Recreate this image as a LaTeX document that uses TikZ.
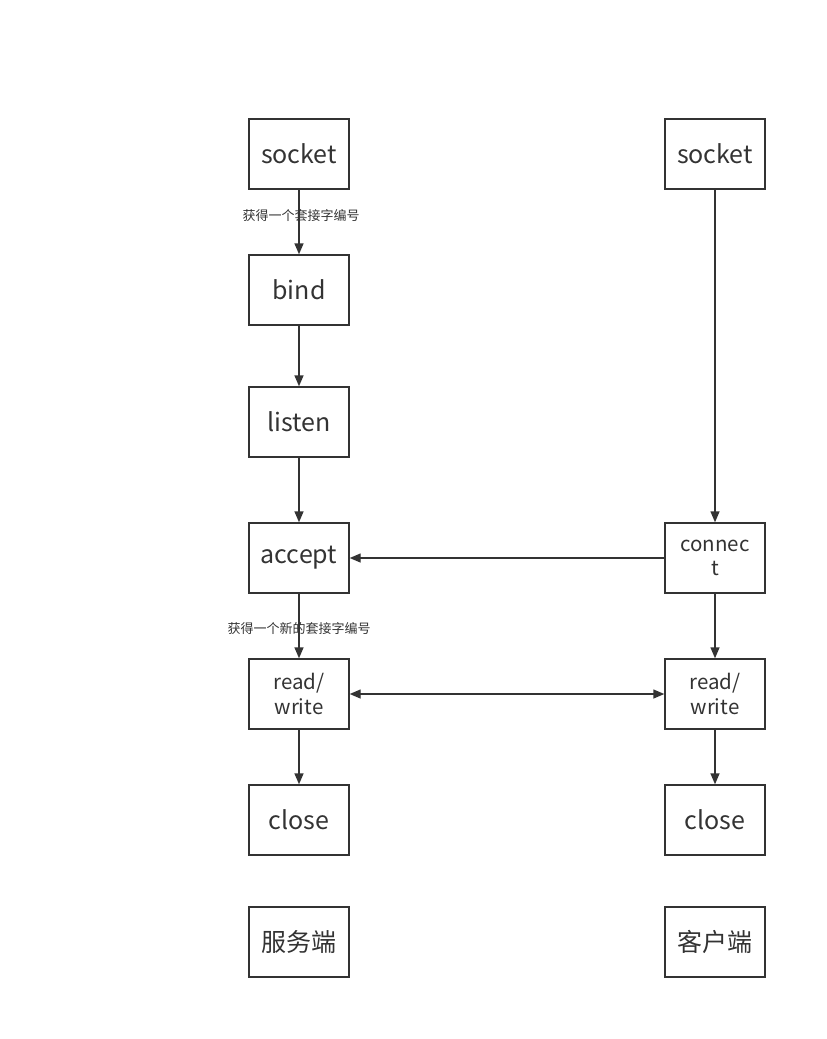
\documentclass[tikz,border=0pt]{standalone}
\usepackage{fontspec}
\setmainfont{Noto Sans CJK SC}
\usetikzlibrary{arrows.meta,positioning}
\definecolor{flowgray}{HTML}{333333}
\tikzset{
  stepbox/.style={
    draw=flowgray,
    line width=1.4pt,
    minimum width=100pt,
    minimum height=70pt,
    inner sep=0pt,
    align=center,
    text=flowgray,
    font=\fontsize{25}{28}\selectfont
  },
  smallbox/.style={
    stepbox,
    font=\fontsize{20.5}{24.5}\selectfont
  },
  arrow/.style={
    -{Triangle[length=11pt,width=9pt]},
    line width=1.4pt,
    draw=flowgray
  },
  dblarrow/.style={
    {Triangle[length=11pt,width=9pt]}-{Triangle[length=11pt,width=9pt]},
    line width=1.4pt,
    draw=flowgray
  },
  note/.style={
    text=flowgray,
    inner sep=0pt,
    font=\fontsize{13}{15}\selectfont
  }
}

\begin{document}
\begin{tikzpicture}[x=1pt,y=-1pt]
\useasboundingbox (0,0) rectangle (827,1039);
% server side
\node[stepbox] (ssock) at (299,154) {socket};
\node[stepbox] (bind) at (299,290) {bind};
\node[stepbox] (listen) at (299,422) {listen};
\node[stepbox] (accept) at (299,558) {accept};
\node[smallbox] (srw) at (299,694) {read/\\write};
\node[stepbox] (sclose) at (299,820) {close};
\node[stepbox] (server) at (299,942) {服务端};
% client side
\node[stepbox] (csock) at (715,154) {socket};
\node[smallbox] (connect) at (715,558) {connec\\t};
\node[smallbox] (crw) at (715,694) {read/\\write};
\node[stepbox] (cclose) at (715,820) {close};
\node[stepbox] (client) at (715,942) {客户端};
% connectors
\draw[arrow] (ssock) -- (bind);
\draw[arrow] (bind) -- (listen);
\draw[arrow] (listen) -- (accept);
\draw[arrow] (accept) -- (srw);
\draw[arrow] (srw) -- (sclose);
\draw[arrow] (csock) -- (connect);
\draw[arrow] (connect) -- (accept);
\draw[arrow] (connect) -- (crw);
\draw[arrow] (crw) -- (cclose);
\draw[dblarrow] (srw) -- (crw);
% labels on the lines
\node[note] (lbl1) at (301,216) {获得一个套接字编号};
\node[note] (lbl2) at (299,629) {获得一个新的套接字编号};
\end{tikzpicture}
\end{document}
